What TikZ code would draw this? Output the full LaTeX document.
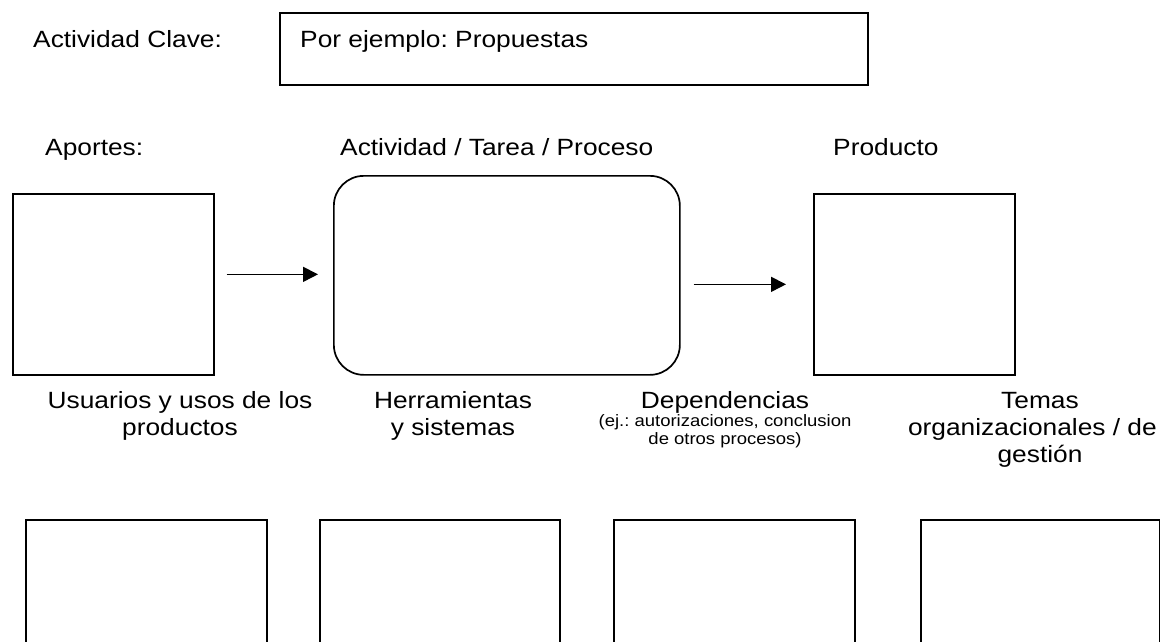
\documentclass[tikz,border=0pt]{standalone}
\usepackage{fontspec}
\usepackage{graphicx}
\setmainfont{Liberation Sans}
\usetikzlibrary{arrows.meta}
\newcommand{\hstretch}[1]{\scalebox{1.12}[1]{#1}}
\begin{document}
\frenchspacing
\begin{tikzpicture}[x=1pt,y=-1pt,
  box/.style={draw, line width=1.7pt, inner sep=0pt, anchor=north west},
  lbl/.style={inner sep=0pt, font=\fontsize{23.5}{27}\selectfont},
  small/.style={inner sep=0pt, font=\fontsize{16.5}{19}\selectfont},
  arr/.style={line width=1.6pt, -{Triangle[length=15pt,width=15pt]}}]
\useasboundingbox (0,0) rectangle (1160,641);
\clip (0,0) rectangle (1160,641);
\fill[white] (0,0) rectangle (1160,641);

% top row
\node[lbl, anchor=base west] (t1) at (33,47) {\hstretch{Actividad Clave:}};
\node[box, minimum width=588pt, minimum height=72pt] (key) at (279,12) {};
\node[lbl, anchor=base west] (t2) at (300,47) {\hstretch{Por ejemplo: Propuestas}};

% headings
\node[lbl, anchor=base west] (ap) at (45,155) {\hstretch{Aportes:}};
\node[lbl, anchor=base west] (atp) at (340,155) {\hstretch{Actividad / Tarea / Proceso}};
\node[lbl, anchor=base west] (pr) at (833,155) {\hstretch{Producto}};

% main boxes
\node[box, minimum width=201pt, minimum height=181pt] (b1) at (12,193) {};
\node[box, rounded corners=30pt, minimum width=346pt, minimum height=199pt] (proc) at (333,175) {};
\node[box, minimum width=201pt, minimum height=181pt] (prod) at (813,193) {};

% arrows
\draw[arr, shorten <=12pt, shorten >=15pt] ([yshift=10pt]b1.east) -- ([yshift=10pt]b1.east -| proc.west);
\draw[arr, shorten <=13pt, shorten >=27pt] (proc.east |- prod.east) -- (prod.east -| prod.west);

% labels under
\node[lbl, anchor=base] (u1) at (180,408) {\hstretch{Usuarios y usos de los}};
\node[lbl, anchor=base] (u2) at (180,435) {\hstretch{productos}};
\node[lbl, anchor=base] (h1) at (453,408) {\hstretch{Herramientas}};
\node[lbl, anchor=base] (h2) at (453,435) {\hstretch{y sistemas}};
\node[lbl, anchor=base] (d1) at (725,408) {\hstretch{Dependencias}};
\node[small, anchor=base] (d2) at (725,426) {\hstretch{(ej.: autorizaciones, conclusion}};
\node[small, anchor=base] (d3) at (725,444) {\hstretch{de otros procesos)}};
\node[lbl, anchor=base] (m1) at (1040,408) {\hstretch{Temas}};
\node[lbl, anchor=base east] (m2) at (1157,435) {\hstretch{organizacionales / de}};
\node[lbl, anchor=base] (m3) at (1040,462) {\hstretch{gestión}};

% bottom boxes (cut by the page edge)
\node[box, minimum width=241pt, minimum height=200pt] (q1) at (25,519) {};
\node[box, minimum width=240pt, minimum height=200pt] (q2) at (319,519) {};
\node[box, minimum width=241pt, minimum height=200pt] (q3) at (613,519) {};
\node[box, minimum width=239pt, minimum height=200pt] (q4) at (920,519) {};
\end{tikzpicture}
\end{document}
